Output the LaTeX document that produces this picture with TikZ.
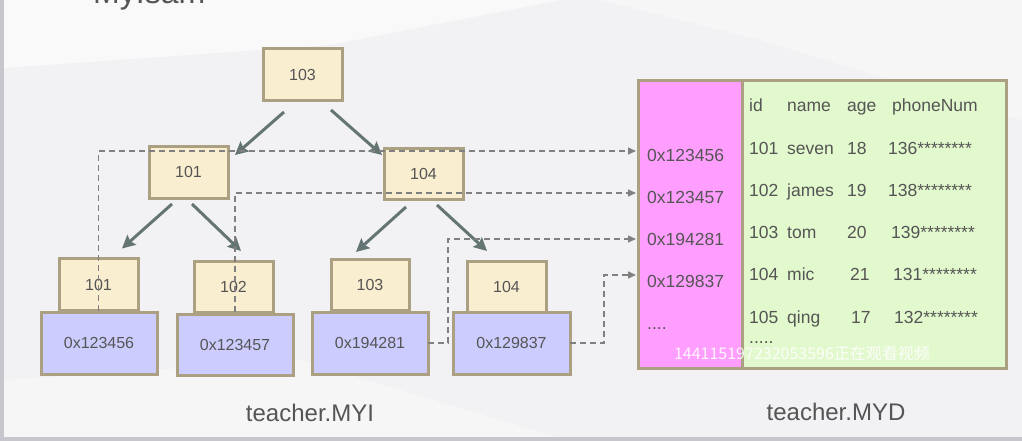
\documentclass[tikz,border=0pt]{standalone}
\usepackage{fontspec}
\setmainfont{Liberation Sans}
\newfontfamily\cjkfont{Noto Sans CJK SC}
\usetikzlibrary{arrows.meta,calc}
\definecolor{bgc}{RGB}{242,242,244}
\definecolor{bord}{RGB}{172,160,130}
\definecolor{ycol}{RGB}{250,238,208}
\definecolor{bcol}{RGB}{204,204,255}
\definecolor{pcol}{RGB}{255,158,255}
\definecolor{gcol}{RGB}{226,248,205}
\definecolor{txt}{RGB}{85,85,85}
\definecolor{arrc}{RGB}{100,117,116}
\definecolor{dashc}{RGB}{128,128,128}
\definecolor{edgec}{RGB}{198,198,204}
\tikzset{
  tbox/.style={draw=bord, line width=3pt, fill=ycol, minimum width=79pt, minimum height=52pt,
    inner sep=0pt, outer sep=0pt, text=txt, font=\fontsize{16}{19}\selectfont},
  abox/.style={tbox, fill=bcol, minimum width=116pt, minimum height=62pt},
  tarrow/.style={draw=arrc, line width=3pt, -{Stealth[length=13pt,width=13pt,inset=2pt]}},
  dline/.style={draw=dashc, line width=1.5pt, dash pattern=on 6pt off 4pt, -{Triangle[length=8pt,width=7pt]}},
  ptxt/.style={anchor=base west, inner sep=0pt, text=txt, font=\fontsize{17.5}{20}\selectfont},
  bigtxt/.style={text=txt, inner sep=0pt, font=\fontsize{24}{28}\selectfont},
}
\begin{document}
\begin{tikzpicture}[x=1pt,y=-1pt]
\useasboundingbox (0,0) rectangle (1022,441);
\clip (0,0) rectangle (1022,441);
% background
\fill[bgc] (0,0) rectangle (1022,441);
\fill[white,opacity=0.55] (4,0) -- (560,0) -- (330,45) -- (4,68) -- cycle;
\fill[white,opacity=0.35] (600,0) -- (1022,0) -- (1022,120) -- (760,40) -- cycle;
\fill[white,opacity=0.35] (4,380) -- (300,360) -- (560,438) -- (4,438) -- cycle;
\fill[edgec] (0,0) rectangle (4,441);
\fill[edgec] (0,437) rectangle (1022,441);
% title (cut off at the top edge, as in the reference)
\node[anchor=base west, inner sep=0pt, text=txt, font=\fontsize{32}{36}\selectfont] (title) at (93,4) {MyIsam};

% tree nodes
\node[tbox] (r103) at (302.5,75) {103};
\node[tbox] (m101) at (188.5,172) {101};
\node[tbox, minimum height=51pt] (m104) at (423.5,173.5) {104};
\node[tbox] (l101) at (98.5,284.5) {101};
\node[tbox, minimum height=51pt] (l102) at (233.5,286.5) {102};
\node[tbox, minimum width=78pt, minimum height=51pt] (l103) at (370,284.5) {103};
\node[tbox, minimum height=51pt] (l104) at (506.5,286.5) {104};
\node[abox] (a1) at (99,343) {0x123456};
\node[abox, minimum height=61pt] (a2) at (235,344.5) {0x123457};
\node[abox] (a3) at (370,343) {0x194281};
\node[abox, minimum width=117pt] (a4) at (511.5,343) {0x129837};

% tree arrows
\draw[tarrow] ($(r103.south)+(-18.5,11)$) -- ($(m101.north east)+(7,9)$);
\draw[tarrow] ($(r103.south)+(28.5,9)$) -- ($(m104.north west)+(-2,7)$);
\draw[tarrow] ($(m101.south)+(-16.5,6)$) -- ($(l101.north)+(23.5,-10)$);
\draw[tarrow] ($(m101.south)+(3.5,6)$) -- ($(l102.north)+(7.5,-10)$);
\draw[tarrow] ($(m104.south)+(-17.5,8)$) -- ($(l103.north)+(-14,-7)$);
\draw[tarrow] ($(m104.south)+(13.5,6)$) -- ($(l104.north)+(-19.5,-10)$);

% data file
\node[draw=bord, line width=3pt, fill=pcol, minimum width=104pt, minimum height=287pt, inner sep=0pt] (pink) at (690,224.5) {};
\node[draw=bord, line width=3pt, fill=gcol, minimum width=264pt, minimum height=287pt, inner sep=0pt] (green) at (874,224.5) {};

\node[ptxt] (p1) at (647,161) {0x123456};
\node[ptxt] (p2) at (647,203) {0x123457};
\node[ptxt] (p3) at (647,245) {0x194281};
\node[ptxt] (p4) at (647,287) {0x129837};
\node[ptxt] (p5) at (647,329) {....};

\node[ptxt] (h1) at (749,112) {id};
\node[ptxt] (h2) at (787,112) {name};
\node[ptxt] (h3) at (847,112) {age};
\node[ptxt] (h4) at (892,112) {phoneNum};

\node[ptxt] (r1a) at (749,154) {101};
\node[ptxt] (r1b) at (787,154) {seven};
\node[ptxt] (r1c) at (847,154) {18};
\node[ptxt] (r1d) at (888,154) {136********};

\node[ptxt] (r2a) at (749,196) {102};
\node[ptxt] (r2b) at (787,196) {james};
\node[ptxt] (r2c) at (847,196) {19};
\node[ptxt] (r2d) at (888,196) {138********};

\node[ptxt] (r3a) at (749,238) {103};
\node[ptxt] (r3b) at (787,238) {tom};
\node[ptxt] (r3c) at (847,238) {20};
\node[ptxt] (r3d) at (891,238) {139********};

\node[ptxt] (r4a) at (749,280) {104};
\node[ptxt] (r4b) at (787,280) {mic};
\node[ptxt] (r4c) at (850,280) {21};
\node[ptxt] (r4d) at (893,280) {131********};

\node[ptxt] (r5a) at (749,323) {105};
\node[ptxt] (r5b) at (787,323) {qing};
\node[ptxt] (r5c) at (851,323) {17};
\node[ptxt] (r5d) at (894,323) {132********};

\node[ptxt] (r6) at (749,343) {.....};

% pointers
\coordinate (e1) at (636,151);
\coordinate (e2) at (636,193);
\coordinate (e3) at (636,239);
\coordinate (e4) at (636,275);
\draw[dline] (l101.south) |- (e1);
\draw[dline] ($(l102.south)+(1.5,0)$) |- (e2);
\draw[dline] (a3.east) -- ++(20,0) |- (e3);
\draw[dline] (a4.east) -- ++(34,0) |- (e4);

% captions
\node[bigtxt] (myi) at (310,413) {teacher.MYI};
\node[bigtxt] (myd) at (836,412) {teacher.MYD};

% watermark
\node[inner sep=0pt, text=white, opacity=0.9, font=\cjkfont\fontsize{16}{18}\selectfont] (wm) at (802,353) {144115197232053596正在观看视频};
\end{tikzpicture}
\end{document}
